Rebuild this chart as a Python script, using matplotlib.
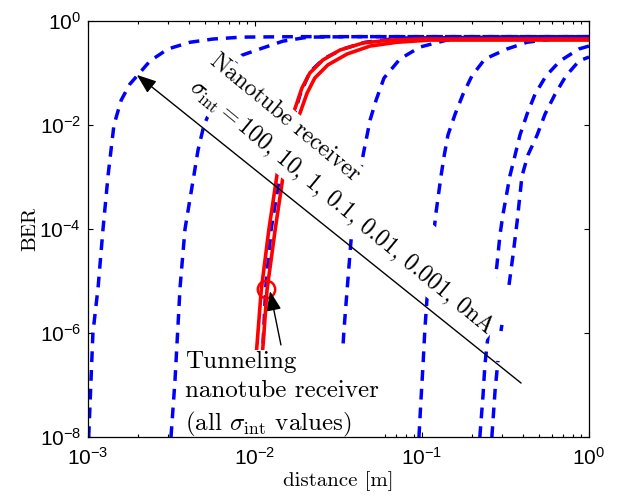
import numpy as np
import matplotlib
matplotlib.use('Agg')
import matplotlib.pyplot as plt
from matplotlib.ticker import LogLocator, NullLocator, NullFormatter

nan = np.nan

# ---------------- data ----------------
# Nanotube receiver, sigma_int = 100, 10, 1, 0.1, 0.01, 0.001, 0 nA
c1_x = [1.01e-3, 1.07e-3, 1.15e-3, 1.23e-3, 1.32e-3, 1.43e-3, 1.58e-3, 1.78e-3,
        1.99e-3, 2.35e-3, 3.01e-3, 4.08e-3, 5.61e-3, 8.36e-3, 1.86e-2, 1.0]
c1_y = [1e-8, 1e-6, 7.7e-6, 1e-4, 1.1e-3, 1e-2, 3.0e-2, 6.1e-2,
        9.2e-2, 0.17, 0.29, 0.39, 0.45, 0.49, 0.5, 0.5]

c2_x = [3.14e-3, 3.32e-3, 3.56e-3, 3.81e-3, 4.31e-3, 4.56e-3, 4.95e-3, 5.23e-3,
        5.84e-3, 6.70e-3, 8.36e-3, 1.07e-2, 1.47e-2, 2.08e-2, 4.25e-2, 1.0]
c2_y = [1e-8, 1.25e-7, 7.7e-6, 1e-4, 1.09e-3, 3.3e-3, 1e-2, 1.49e-2,
        3.8e-2, 8.8e-2, 0.22, 0.29, 0.41, 0.49, 0.5, 0.5]

c3_x = [1.03e-2, 1.09e-2, 1.16e-2, 1.25e-2, 1.41e-2, 1.49e-2, 1.62e-2, 1.71e-2,
        1.86e-2, 2.13e-2, 2.59e-2, 3.37e-2, 4.56e-2, 7.38e-2, 1.0]
c3_y = [1e-8, 1.25e-7, 7.7e-6, 1e-4, 1.09e-3, 3.3e-3, 1e-2, 1.49e-2,
        3.8e-2, 0.105, 0.19, 0.29, 0.39, 0.47, 0.5]

c4_x = [3.10e-2, 3.27e-2, 3.41e-2, 3.56e-2, 3.76e-2, 4.03e-2, 4.44e-2, 4.89e-2,
        5.31e-2, 5.92e-2, 7.38e-2, 9.73e-2, 0.141, 0.293, 1.0]
c4_y = [1e-8, 1.25e-7, 1.14e-6, 6.7e-6, 6.1e-5, 3.6e-4, 2.65e-3, 1.25e-2,
        3.0e-2, 8.0e-2, 0.186, 0.316, 0.43, 0.49, 0.5]

c5_x = [9.59e-2, 9.86e-2, 0.1014, 0.104, 0.107, 0.113, 0.121, 0.130, 0.136,
        0.143, 0.158, 0.176, 0.199, 0.238, 0.323, 0.426, 0.670, 1.0]
c5_y = [1e-8, 5.2e-8, 2.4e-7, 1.14e-6, 4.3e-6, 2.5e-5, 1.94e-4, 1.05e-3, 2.65e-3,
        6.4e-3, 1.63e-2, 3.9e-2, 8.8e-2, 0.186, 0.29, 0.39, 0.47, 0.49]

c6_x = [0.222, 0.232, 0.238, 0.245, 0.281, 0.293, 0.305, 0.336, 0.361, 0.386,
        0.426, 0.475, 0.553, 0.670, 0.871, 1.0]
c6_y = [1e-8, 6.4e-8, 2.4e-7, 5.9e-7, 2.03e-5, 7.7e-5, 1.86e-4, 1.05e-3, 2.65e-3,
        6.4e-3, 1.63e-2, 3.9e-2, 8.8e-2, 0.17, 0.29, 0.33]

c7_x = [0.262, 0.274, 0.285, nan, 0.297, 0.301, nan, 0.332, 0.351, 0.371, 0.397,
        0.431, 0.489, 0.546, 0.626, 0.728, 0.871, 1.0]
c7_y = [1e-8, 8.0e-8, 2.9e-7, nan, 1.09e-6, 1.43e-6, nan, 8.4e-6, 3.2e-5, 1.36e-4,
        1.05e-3, 2.65e-3, 6.4e-3, 1.63e-2, 3.9e-2, 8.8e-2, 0.17, 0.203]

blue_x = [c1_x, c2_x, c3_x, c4_x, c5_x, c6_x, c7_x]
blue_y = [c1_y, c2_y, c3_y, c4_y, c5_y, c6_y, c7_y]

# Tunneling nanotube receiver (all sigma_int values)
r1_x = [9.86e-3, 1.03e-2, 1.09e-2, 1.21e-2, 1.36e-2, 1.43e-2, 1.56e-2, 1.74e-2,
        1.91e-2, 2.13e-2, 2.55e-2, 3.23e-2, 4.44e-2, 6.43e-2, 9.73e-2, 1.0]
r1_y = [1.25e-7, 6.4e-7, 6.7e-6, 9.6e-5, 1.19e-3, 3.3e-3, 8.7e-3, 2.12e-2,
        5.15e-2, 0.1, 0.178, 0.277, 0.378, 0.43, 0.45, 0.45]
r2_x = [1.07e-2, 1.12e-2, 1.18e-2, 1.32e-2, 1.47e-2, 1.56e-2, 1.67e-2, 1.86e-2,
        2.05e-2, 2.28e-2, 2.73e-2, 3.56e-2, 4.89e-2, 7.08e-2, 0.112, 1.0]
r2_y = [1.25e-7, 6.4e-7, 6.7e-6, 9.6e-5, 1.0e-3, 2.65e-3, 7.0e-3, 1.7e-2,
        4.1e-2, 8.0e-2, 0.143, 0.232, 0.33, 0.39, 0.43, 0.43]

marker_x, marker_y = 1.16e-2, 7.0e-6

arrow1_tail = (0.392, 1.09e-7)
arrow1_head = (1.96e-3, 9.2e-2)
arrow2_tail = (1.43e-2, 5.9e-7)
arrow2_head = (1.23e-2, 6.4e-6)

x_ticks = [1e-3, 1e-2, 1e-1, 1.0]
y_ticks = [1e-8, 1e-6, 1e-4, 1e-2, 1.0]

label_nano = ("Nanotube receiver\n"
              + r"$\sigma_{\rm int} = 100,\,10,\,1,\,0.1,\,0.01,\,0.001,\,0{\rm nA}$")
label_tunnel = "Tunneling\nnanotube receiver\n(all " + r"$\sigma_{\rm int}$" + " values)"

# ---------------- style ----------------
plt.rcParams['font.family'] = ['Liberation Sans', 'DejaVu Sans']
plt.rcParams['mathtext.fontset'] = 'custom'
plt.rcParams['mathtext.rm'] = 'Liberation Sans'
plt.rcParams['mathtext.it'] = 'Liberation Sans:italic'
plt.rcParams['mathtext.bf'] = 'Liberation Sans:bold'

fig = plt.figure(figsize=(6.22, 5.01), dpi=100)
ax = fig.add_axes([88 / 622, 64 / 501, 501 / 622, 416 / 501])

for xs, ys in zip(blue_x, blue_y):
    ax.plot(xs, ys, color=(0, 0, 1), lw=2.5, ls=(0, (3.1, 2.3)),
            dash_capstyle='butt', zorder=2)
ax.plot(r1_x, r1_y, color=(1, 0, 0), lw=2.6, zorder=2.2)
ax.plot(r2_x, r2_y, color=(1, 0, 0), lw=2.6, zorder=2.2)
ax.plot([marker_x], [marker_y], 'o', mfc='none', mec=(1, 0, 0), ms=12.5,
        mew=1.8, zorder=2.3)

ax.set_xscale('log')
ax.set_yscale('log')
ax.set_xlim(1e-3, 1)
ax.set_ylim(1e-8, 1)
ax.set_xticks(x_ticks)
ax.set_yticks(y_ticks)
ax.xaxis.set_minor_locator(LogLocator(base=10, subs=np.arange(2, 10)))
ax.xaxis.set_minor_formatter(NullFormatter())
ax.yaxis.set_minor_locator(NullLocator())
ax.tick_params(which='both', direction='in', top=True, right=True,
               labelsize=15, width=0.8, color='k')
ax.tick_params(which='major', length=3.6)
ax.tick_params(which='minor', length=2.2)
ax.tick_params(axis='x', pad=7)
ax.tick_params(axis='y', pad=5)
for sp in ax.spines.values():
    sp.set_linewidth(0.9)
    sp.set_zorder(5)

ax.set_xlabel('distance [m]', family='cmr10', fontsize=15, labelpad=2)
ax.set_ylabel('BER', family='cmr10', fontsize=15)
ax.yaxis.set_label_coords(-0.098, 0.5)

ax.text(0.525, 0.582, label_nano, transform=ax.transAxes, rotation=-39.5,
        rotation_mode='anchor', ha='center', va='center', multialignment='left',
        fontsize=17, family='cmr10', math_fontfamily='cm', linespacing=1.4,
        bbox=dict(facecolor='white', edgecolor='none', pad=1.8), zorder=3)
ax.text(0.1936, 0.207, label_tunnel, transform=ax.transAxes, ha='left', va='top',
        fontsize=18, family='cmr10', math_fontfamily='cm', linespacing=1.38,
        bbox=dict(facecolor='white', edgecolor='none', pad=3), zorder=3)

ax.annotate('', xy=arrow1_head, xytext=arrow1_tail,
            arrowprops=dict(arrowstyle='-|>,head_length=1.2,head_width=0.45',
                            color='k', lw=1.0, shrinkA=0, shrinkB=0), zorder=4)
ax.annotate('', xy=arrow2_head, xytext=arrow2_tail,
            arrowprops=dict(arrowstyle='-|>,head_length=1.2,head_width=0.45',
                            color='k', lw=1.0, shrinkA=0, shrinkB=0), zorder=4)

fig.savefig('out.png', dpi=100)
